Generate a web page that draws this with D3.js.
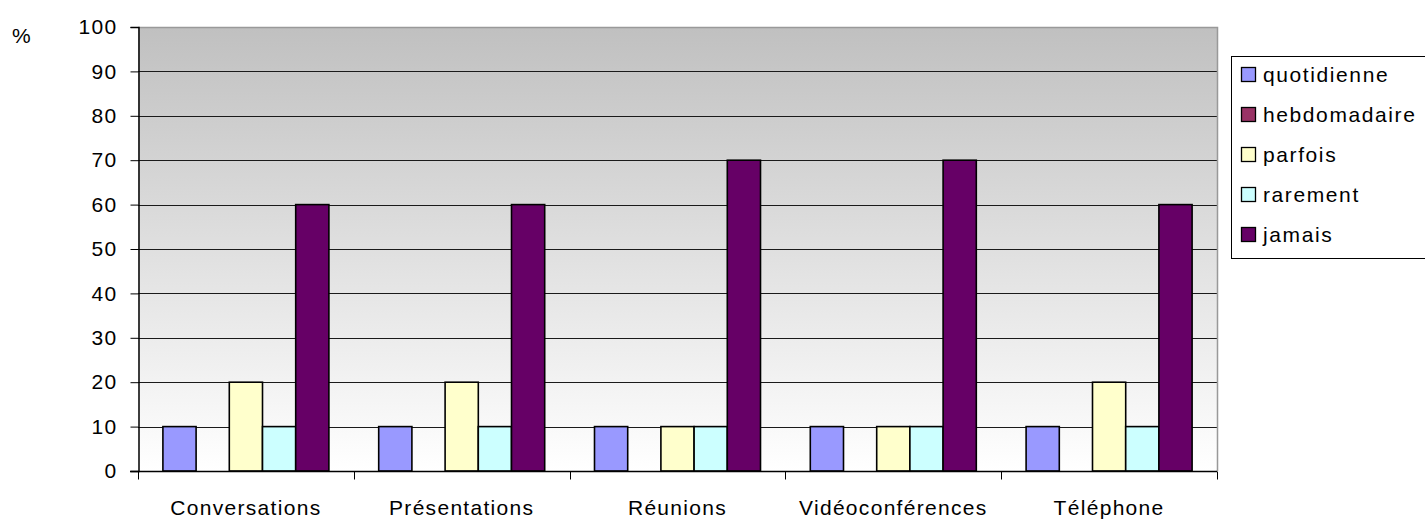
<!DOCTYPE html>
<html>
<head>
<meta charset="utf-8">
<script src="https://cdn.jsdelivr.net/npm/d3@7"></script>
<style>
  body { margin: 0; background: #fff; }
  svg text { font-family: "Liberation Sans", Arial, sans-serif; fill: #000; }
</style>
</head>
<body>
<div id="graphic"></div>
<script>
// categories and series
var categories = ["Conversations", "Présentations", "Réunions", "Vidéoconférences", "Téléphone"];
var seriesNames = ["quotidienne", "hebdomadaire", "parfois", "rarement", "jamais"];
var seriesColors = ["#9999ff", "#993366", "#ffffcc", "#ccffff", "#660066"];
var quotidienne = [10, 10, 10, 10, 10];
var hebdomadaire = [0, 0, 0, 0, 0];
var parfois = [20, 20, 10, 10, 20];
var rarement = [10, 10, 10, 10, 10];
var jamais = [60, 60, 70, 70, 60];
var yTicks = [0, 10, 20, 30, 40, 50, 60, 70, 80, 90, 100];

var seriesValues = [quotidienne, hebdomadaire, parfois, rarement, jamais];

var width = 1425, height = 519;
var plot = {left: 138, right: 1217, top: 27, bottom: 471};

var svg = d3.select("#graphic").append("svg")
  .attr("width", width)
  .attr("height", height);

// background gradient of the plot area
var grad = svg.append("defs").append("linearGradient")
  .attr("id", "bg")
  .attr("x1", 0).attr("y1", 0).attr("x2", 0).attr("y2", 1);
grad.append("stop").attr("offset", "0%").attr("stop-color", "#c0c0c0");
grad.append("stop").attr("offset", "100%").attr("stop-color", "#ffffff");

var x = d3.scaleBand()
  .domain(categories)
  .range([plot.left, plot.right]);

var xs = d3.scaleBand()
  .domain(seriesNames)
  .range([0, x.bandwidth()])
  .paddingOuter(0.75);

var y = d3.scaleLinear()
  .domain([0, 100])
  .range([plot.bottom, plot.top]);

svg.append("rect")
  .attr("x", plot.left)
  .attr("y", plot.top)
  .attr("width", plot.right - plot.left)
  .attr("height", plot.bottom - plot.top)
  .style("fill", "url(#bg)");

// grid lines
svg.append("g").selectAll("line")
  .data(yTicks.filter(function(d) { return d > 0 && d < 100; }))
  .enter().append("line")
    .attr("x1", plot.left)
    .attr("x2", plot.right)
    .attr("y1", function(d) { return Math.round(y(d)) + 0.5; })
    .attr("y2", function(d) { return Math.round(y(d)) + 0.5; })
    .style("stroke", "#1a1a1a")
    .style("stroke-width", 1);

// gray border top / right
svg.append("path")
  .attr("d", "M" + plot.left + "," + (plot.top + 0.5) + "H" + (plot.right + 0.5) + "V" + plot.bottom)
  .style("fill", "none")
  .style("stroke", "#999")
  .style("stroke-width", 1.5);

// bars
var rows = [];
categories.forEach(function(c, i) {
  seriesNames.forEach(function(s, j) {
    rows.push({cat: c, name: s, value: seriesValues[j][i], color: seriesColors[j]});
  });
});

svg.append("g").selectAll("rect")
  .data(rows.filter(function(d) { return d.value > 0; }))
  .enter().append("rect")
    .attr("x", function(d) { return x(d.cat) + xs(d.name); })
    .attr("y", function(d) { return y(d.value); })
    .attr("width", xs.bandwidth())
    .attr("height", function(d) { return y(0) - y(d.value); })
    .style("fill", function(d) { return d.color; })
    .style("stroke", "#000")
    .style("stroke-width", 1.6);

// y axis
var yAxis = svg.append("g")
  .attr("transform", "translate(" + (plot.left + 0.5) + ",0)")
  .call(d3.axisLeft(y).tickValues(yTicks).tickSize(8).tickPadding(13));
yAxis.select(".domain").style("stroke", "#000").style("stroke-width", 1.5);
yAxis.selectAll(".tick line").style("stroke", "#000");
yAxis.selectAll("text")
  .style("font-size", "21px")
  .style("letter-spacing", "1.3px");

// x axis
var xAxis = svg.append("g")
  .attr("transform", "translate(0," + (plot.bottom + 0.5) + ")");
xAxis.append("line")
  .attr("x1", plot.left - 8).attr("x2", plot.right)
  .style("stroke", "#000").style("stroke-width", 1.5);
xAxis.selectAll(".sep")
  .data(categories.concat(["end"]))
  .enter().append("line")
    .attr("class", "sep")
    .attr("x1", function(d, i) { return Math.round(plot.left + i * x.step()) + 0.5; })
    .attr("x2", function(d, i) { return Math.round(plot.left + i * x.step()) + 0.5; })
    .attr("y1", 0).attr("y2", 8)
    .style("stroke", "#000");
xAxis.selectAll(".lbl")
  .data(categories)
  .enter().append("text")
    .attr("class", "lbl")
    .attr("x", function(d) { return x(d) + x.bandwidth() / 2; })
    .attr("y", 43)
    .attr("text-anchor", "middle")
    .style("font-size", "21px")
    .style("letter-spacing", "1.3px")
    .text(function(d) { return d; });

// unit label
svg.append("text")
  .attr("x", 12)
  .attr("y", 43)
  .style("font-size", "21px")
  .text("%");

// legend
var legend = svg.append("g");
legend.append("rect")
  .attr("x", 1231.5).attr("y", 56.5)
  .attr("width", 220).attr("height", 202)
  .style("fill", "#fff")
  .style("stroke", "#000");
var item = legend.selectAll(".item")
  .data(seriesNames)
  .enter().append("g")
    .attr("class", "item")
    .attr("transform", function(d, i) { return "translate(1241," + (75 + i * 40) + ")"; });
item.append("rect")
  .attr("x", 0.5).attr("y", -7.5)
  .attr("width", 14).attr("height", 14)
  .style("fill", function(d, i) { return seriesColors[i]; })
  .style("stroke", "#000")
  .style("stroke-width", 1.3);
item.append("text")
  .attr("x", 22)
  .attr("y", 7)
  .style("font-size", "21px")
  .style("letter-spacing", "1.6px")
  .text(function(d) { return d; });
</script>
</body>
</html>
